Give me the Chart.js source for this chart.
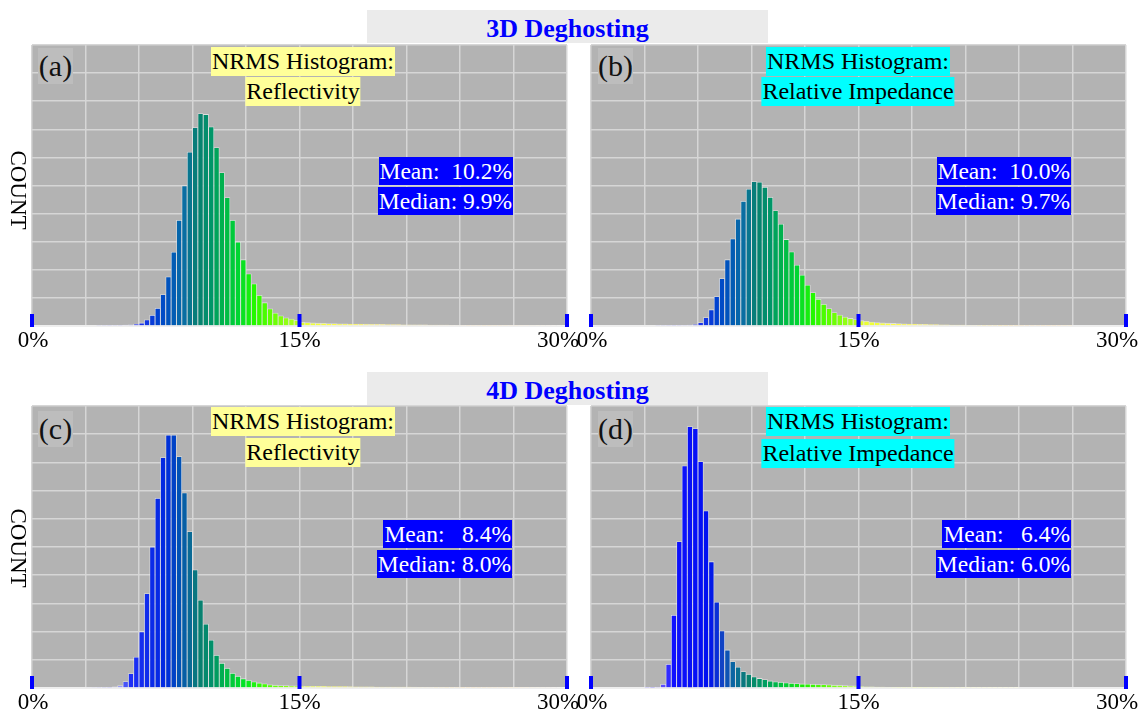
<!DOCTYPE html>
<html>
<head>
<meta charset="utf-8">
<script src="https://cdn.jsdelivr.net/npm/chart.js@4.4.1/dist/chart.umd.min.js"></script>
<style>
html,body{margin:0;padding:0;background:#fff;width:1143px;height:716px;overflow:hidden;}
body{position:relative;font-family:"Liberation Serif","Times New Roman",serif;}
canvas{position:absolute;}
.band{position:absolute;background:#ebebeb;color:#0000ff;font-weight:bold;font-size:26px;text-align:center;z-index:5;}
.lbl{position:absolute;font-size:24px;line-height:29px;height:29px;color:#000;padding:0 1px;white-space:pre;transform:translateX(-50%);z-index:5;}
.yel{background:#ffff99;}
.cya{background:#00ffff;}
.stat{position:absolute;background:#0000ff;color:#fff;font-size:23.5px;line-height:28px;height:28px;white-space:pre;padding:0 1px;z-index:5;}
.tag{position:absolute;background:#bdbdbd;font-size:30px;line-height:35px;width:35px;height:36px;text-align:center;color:#111;z-index:5;}
.count{position:absolute;font-size:23px;color:#000;transform:translate(-50%,-50%) rotate(90deg);white-space:nowrap;z-index:5;}
</style>
</head>
<body>
<div class="band" style="left:367px;top:10px;width:401px;height:33px;line-height:37px;">3D Deghosting</div>
<div class="band" style="left:367px;top:372px;width:401px;height:33px;line-height:37px;">4D Deghosting</div>

<div class="count" style="left:18px;top:190px;">COUNT</div>
<div class="count" style="left:18px;top:548px;">COUNT</div>

<div class="tag" style="left:38px;top:48px;">(a)</div>
<div class="tag" style="left:598px;top:48px;">(b)</div>
<div class="tag" style="left:38px;top:411px;">(c)</div>
<div class="tag" style="left:598px;top:411px;">(d)</div>

<div class="lbl yel" style="left:303px;top:47px;">NRMS Histogram:</div>
<div class="lbl yel" style="left:303px;top:77px;">Reflectivity</div>
<div class="lbl cya" style="left:858px;top:47px;">NRMS Histogram:</div>
<div class="lbl cya" style="left:858px;top:77px;">Relative Impedance</div>
<div class="lbl yel" style="left:303px;top:407px;">NRMS Histogram:</div>
<div class="lbl yel" style="left:303px;top:438px;">Reflectivity</div>
<div class="lbl cya" style="left:858px;top:407px;">NRMS Histogram:</div>
<div class="lbl cya" style="left:858px;top:439px;">Relative Impedance</div>

<div class="stat" style="right:630px;top:157px;">Mean:  10.2%</div>
<div class="stat" style="right:630px;top:187px;">Median: 9.9%</div>
<div class="stat" style="right:72px;top:157px;">Mean:  10.0%</div>
<div class="stat" style="right:72px;top:187px;">Median: 9.7%</div>
<div class="stat" style="right:631px;top:520px;">Mean:   8.4%</div>
<div class="stat" style="right:631px;top:550px;">Median: 8.0%</div>
<div class="stat" style="right:72px;top:520px;">Mean:   6.4%</div>
<div class="stat" style="right:72px;top:550px;">Median: 6.0%</div>

<canvas id="cA"></canvas>
<canvas id="cB"></canvas>
<canvas id="cC"></canvas>
<canvas id="cD"></canvas>

<script>
// ---------------- DATA ----------------
const binWidth = 0.3;            // NRMS percent per histogram bin
const xMin = 0, xMax = 30;       // NRMS axis range (%)
const xTickValues = [0, 15, 30];
const xTickLabels = ['0%', '15%', '30%'];

// (a) 3D deghosting, reflectivity — counts (relative units), first bin index = startA
const startA = 12;
const countsA = [0.1,0.12,0.15,0.18,0.22,0.3,0.45,0.7,1.1,2.2,
  3.8,6.3,11.2,17.5,26.3,37.6,49.9,61.9,70.6,75.6,
  75.3,70.9,63.5,54.6,45.7,37.6,29.9,23.6,18.6,15.0,
  10.9,8.3,6.1,4.6,3.6,2.9,2.5,2.0,
  1.3,1.2,1.1,1.0,0.95,0.9,0.85,0.8,0.75,0.72,
  0.7,0.67,0.64,0.61,0.58,0.55,0.52,0.5,0.48,0.46,
  0.44,0.42,0.4,0.38,0.36,0.34,0.32,0.3,0.28,0.26,
  0.24,0.22,0.2,0.18,0.16,0.15,0.14,0.12,0.1,0.1,
  0.08,0.08,0.07,0.06,0.05,0.05,0.04,0.04,0.03,0.03];

// (b) 3D deghosting, relative impedance
const startB = 12;
const countsB = [0.1,0.12,0.14,0.16,0.2,0.25,0.35,0.5,1.2,3.0,
  5.8,10.5,16.9,23.6,31.0,38.1,44.4,48.7,51.4,51.2,
  49.4,45.8,41.1,36.3,30.8,26.4,21.7,18.1,14.6,11.9,
  9.5,7.7,6.2,4.8,3.9,3.2,2.7,2.3,
  1.9,1.7,1.4,1.2,1.1,1.0,0.92,0.85,0.78,0.72,
  0.66,0.6,0.56,0.52,0.48,0.44,0.4,0.37,0.34,0.31,
  0.28,0.26,0.24,0.22,0.2,0.18,0.16,0.14,0.12,0.1,
  0.09,0.08,0.07,0.06,0.05,0.05,0.04,0.04,0.03,0.03];

// (c) 4D deghosting, reflectivity
const startC = 10;
const countsC = [0.05,0.06,0.08,0.1,0.15,0.4,0.9,2.3,5.1,11.0,
  19.9,33.5,50.0,67.3,81.7,89.7,89.7,82.1,69.2,55.5,
  41.9,31.2,22.7,17.0,11.6,8.8,7.0,5.2,4.2,3.3,
  2.7,2.2,1.8,1.5,1.15,1.0,0.9,0.85,0.8,0.75,
  0.65,0.62,0.6,0.58,0.56,0.54,0.52,0.5,0.48,0.46,
  0.44,0.42,0.4,0.38,0.36,0.35,0.34,0.33,0.32,0.31,
  0.3,0.29,0.28,0.27,0.26,0.25,0.24,0.22,0.2,0.18,
  0.16,0.14,0.12,0.1,0.09,0.08,0.07,0.06,0.05,0.05,
  0.04,0.04,0.03,0.03,0.03,0.02,0.02,0.02,0.02,0.02];

// (d) 4D deghosting, relative impedance
const startD = 10;
const countsD = [0.05,0.1,0.3,1.3,8.4,25.8,51.9,78.8,92.7,92.0,
  80.3,62.8,44.8,30.5,20.3,13.5,9.4,7.4,5.8,4.9,
  4.0,3.4,3.0,2.5,2.2,2.0,1.85,1.7,1.55,1.45,
  1.4,1.3,1.25,1.2,1.1,1.0,0.95,0.9,0.8,0.75,
  0.5,0.45,0.4,0.36,0.32,0.28,0.25,0.22,0.2,0.18,
  0.16,0.14,0.12,0.1,0.09,0.08,0.07,0.06,0.05,0.05,
  0.04,0.04,0.04,0.04,0.04,0.04,0.04,0.04,0.04,0.04];

// ---------------- STYLE ----------------
const stopsAB = [[3.0,'#ececec'],[5.4,'#c0c0f8'],[6.0,'#2030f0'],[7.0,'#0040d0'],[7.8,'#0058b8'],
  [8.6,'#0a70a0'],[9.3,'#088070'],[10.0,'#00946a'],[10.8,'#00b848'],[11.6,'#00d830'],
  [12.4,'#20f800'],[13.4,'#60ff00'],[14.8,'#b0ff20'],[15.2,'#e8ff30'],[17,'#ffff48'],
  [20,'#ffec70'],[24,'#f8e4c0'],[30,'#f4f4f4']];
const stopsC = [[3.0,'#ececec'],[4.8,'#c0c0f8'],[5.4,'#2030f8'],[7.5,'#0028e0'],[8.2,'#0050b8'],
  [8.8,'#0a6898'],[9.4,'#088070'],[10.2,'#009468'],[11.0,'#00c040'],[12.0,'#00e820'],
  [13.0,'#40ff00'],[14.8,'#a8ff20'],[15.2,'#e8ff30'],[17,'#ffff48'],[20,'#ffec70'],
  [24,'#f8e4c0'],[30,'#f4f4f4']];
const stopsD = [[3.0,'#e0e0f8'],[4.0,'#6050ff'],[4.6,'#1010ff'],[6.6,'#0010f0'],[7.3,'#1040c8'],
  [8.0,'#0a68a0'],[8.8,'#088070'],[9.8,'#00a060'],[11.0,'#00d030'],[12.0,'#20f000'],
  [13.5,'#70ff10'],[14.8,'#c0ff50'],[16,'#f0ffa0'],[20,'#f8f8d8'],[30,'#ffffff']];

function hexToRgb(h){const n=parseInt(h.slice(1),16);return [(n>>16)&255,(n>>8)&255,n&255];}
function colorAt(p, stops){
  if (p <= stops[0][0]) return stops[0][1];
  for (let i = 1; i < stops.length; i++) {
    if (p <= stops[i][0]) {
      const [p0,c0] = stops[i-1], [p1,c1] = stops[i];
      const t = (p-p0)/(p1-p0), a = hexToRgb(c0), b = hexToRgb(c1);
      return 'rgb(' + a.map((v,k)=>Math.round(v+(b[k]-v)*t)).join(',') + ')';
    }
  }
  return stops[stops.length-1][1];
}

const PLOT_W = 535, PAD_L = 30, PAD_R = 30, PAD_T = 1, PAD_B = 36;
const panels = [
  {canvas:'cA', start:startA, counts:countsA, stops:stopsAB, left:32,  top:45,  bottom:326},
  {canvas:'cB', start:startB, counts:countsB, stops:stopsAB, left:591, top:45,  bottom:326},
  {canvas:'cC', start:startC, counts:countsC, stops:stopsC,  left:32,  top:406, bottom:688},
  {canvas:'cD', start:startD, counts:countsD, stops:stopsD,  left:591, top:406, bottom:688}
];
const labelShift = [1, 0, -9];

const decoPlugin = {
  id: 'deco',
  beforeDraw(chart) {
    const {ctx, chartArea:a} = chart;
    ctx.save();
    ctx.fillStyle = '#b3b3b3';
    ctx.fillRect(a.left, a.top, a.right - a.left, a.bottom - a.top);
    ctx.restore();
  },
  afterDraw(chart) {
    const {ctx, chartArea:a} = chart;
    const xs = chart.scales.x;
    ctx.save();
    ctx.fillStyle = '#0000ff';
    xTickValues.forEach(v => {
      const px = xs.getPixelForValue(v);
      ctx.fillRect(px - 2, a.bottom - 12, 4, 13);
    });
    ctx.fillStyle = '#000';
    ctx.font = '23px "Liberation Serif", "Times New Roman", serif';
    ctx.textAlign = 'center';
    ctx.textBaseline = 'middle';
    xTickValues.forEach((v, i) => {
      const px = xs.getPixelForValue(v);
      ctx.fillText(xTickLabels[i], px + labelShift[i], a.bottom + 15);
    });
    ctx.restore();
  }
};

panels.forEach(p => {
  const cv = document.getElementById(p.canvas);
  const h = (p.bottom - p.top) + PAD_T + PAD_B;
  const w = PLOT_W + PAD_L + PAD_R;
  cv.width = w; cv.height = h;
  cv.style.left = (p.left - PAD_L) + 'px';
  cv.style.top = (p.top - PAD_T) + 'px';
  cv.style.width = w + 'px'; cv.style.height = h + 'px';
  const pts = p.counts.map((v, i) => ({x: (p.start + i + 0.5) * binWidth, y: v}));
  new Chart(cv, {
    type: 'bar',
    data: {
      datasets: [{
        data: pts,
        backgroundColor: ctx => colorAt(ctx.raw ? ctx.raw.x : 0, p.stops),
        borderColor: 'rgba(238,238,238,0.75)',
        borderWidth: 0.8,
        barPercentage: 1.0,
        categoryPercentage: 1.0
      }]
    },
    options: {
      responsive: false,
      animation: false,
      devicePixelRatio: 1,
      layout: {padding: {left: PAD_L, right: PAD_R, top: PAD_T, bottom: PAD_B}},
      plugins: {legend: {display: false}, tooltip: {enabled: false}},
      scales: {
        x: {
          type: 'linear', min: xMin, max: xMax, offset: false,
          ticks: {display: false, stepSize: 3},
          grid: {color: '#d6d6d6', lineWidth: 1.5, drawTicks: false, offset: false},
          border: {display: true, color: '#eeeeee', width: 2}
        },
        y: {
          type: 'linear', min: 0, max: 100,
          ticks: {display: false, stepSize: 10},
          grid: {color: '#d6d6d6', lineWidth: 1.5, drawTicks: false},
          border: {display: false}
        }
      }
    },
    plugins: [decoPlugin]
  });
});
</script>
</body>
</html>
